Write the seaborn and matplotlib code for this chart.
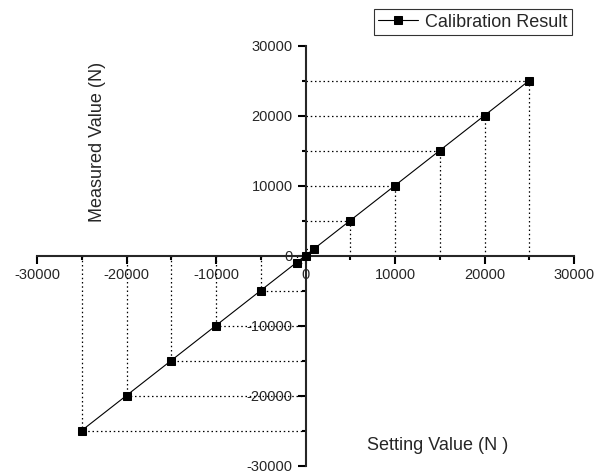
import matplotlib
matplotlib.use("Agg")
import matplotlib.pyplot as plt
import seaborn as sns
import pandas as pd
from matplotlib.ticker import MultipleLocator

sns.set_style("white")
plt.rcParams['font.family'] = ['Liberation Sans', 'DejaVu Sans']
plt.rcParams['axes.unicode_minus'] = False

setting = [-25000, -20000, -15000, -10000, -5000, -1000, 0, 1000, 5000, 10000, 15000, 20000, 25000]
measured = [-25000, -20000, -15000, -10000, -5000, -1000, 0, 1000, 5000, 10000, 15000, 20000, 25000]
series_name = "Calibration Result"
x_label = "Setting Value (N )"
y_label = "Measured Value (N)"

df = pd.DataFrame({"Setting": setting, "Measured": measured, "series": series_name})

fig = plt.figure(figsize=(6.03, 4.75), dpi=100)
ax = fig.add_axes([37/603, 1-465.5/475, (574-37)/603, (465.5-45.5)/475])

# dotted guide lines to the axes
ax.vlines(df["Setting"], 0, df["Measured"], colors="black", linestyles=(0, (1.2, 2.2)), linewidth=0.9, zorder=1)
ax.hlines(df["Measured"], 0, df["Setting"], colors="black", linestyles=(0, (1.2, 2.2)), linewidth=0.9, zorder=1)

sns.lineplot(data=df, x="Setting", y="Measured", hue="series", palette=["black"],
             marker="s", markersize=6.2, markeredgecolor="black", linewidth=0.8,
             ax=ax, zorder=3, sort=False)

ax.set_xlim(-30000, 30000)
ax.set_ylim(-30000, 30000)
ax.spines['left'].set_position(('data', 0))
ax.spines['bottom'].set_position(('data', 0))
ax.spines['top'].set_visible(False)
ax.spines['right'].set_visible(False)
for s in ('left', 'bottom'):
    ax.spines[s].set_linewidth(1.5)
    ax.spines[s].set_zorder(2)

ax.xaxis.set_major_locator(MultipleLocator(10000))
ax.yaxis.set_major_locator(MultipleLocator(10000))
ax.xaxis.set_minor_locator(MultipleLocator(5000))
ax.yaxis.set_minor_locator(MultipleLocator(5000))
ax.tick_params(which='major', direction='out', length=5.8, width=1.5, labelsize=10.5, color='black', pad=3.5,
               bottom=True, left=True)
ax.tick_params(which='minor', direction='out', length=3, width=1.5, color='black', bottom=True, left=True)
ax.set_xlabel("")
ax.set_ylabel("")

fig.text(98/603, 1-142/475, y_label, rotation=90, ha='center', va='center', fontsize=13)
fig.text(438/603, 1-446/475, x_label, ha='center', va='center', fontsize=13)

leg = ax.legend(loc='upper right', bbox_to_anchor=(572/603, 1-9/475), bbox_transform=fig.transFigure,
                frameon=True, fancybox=False, edgecolor='black', fontsize=13,
                handlelength=2.2, handletextpad=0.4, borderpad=0.25, borderaxespad=0, markerscale=0.85)
leg.get_frame().set_linewidth(0.8)

fig.savefig("out.png", dpi=100)
